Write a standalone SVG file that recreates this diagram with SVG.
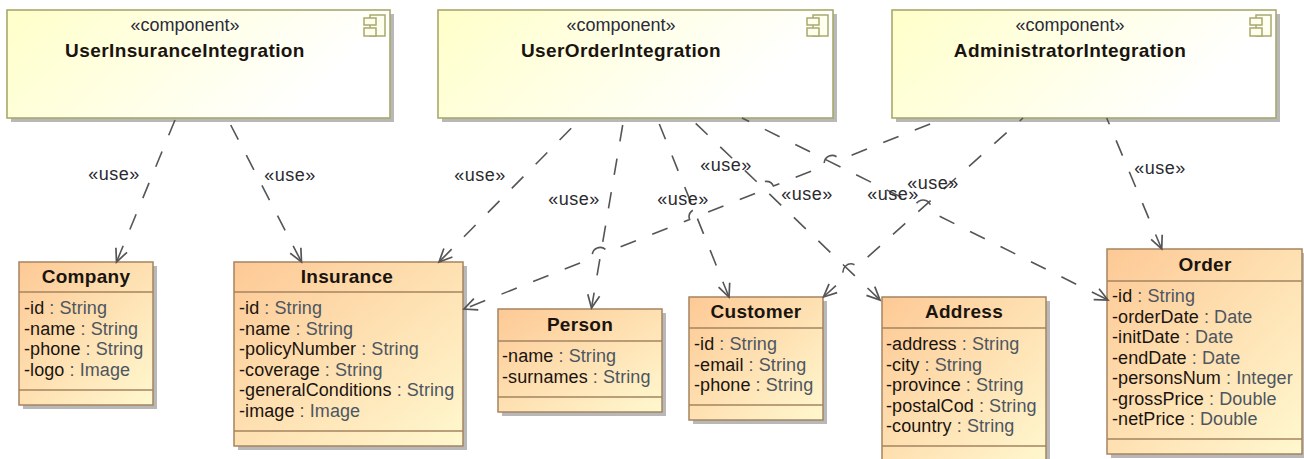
<svg xmlns="http://www.w3.org/2000/svg" width="1304" height="459" viewBox="0 0 1304 459">
<style>
text{font-family:"Liberation Sans",Arial,sans-serif;fill:#1a1410}
.sh{fill:#b8b8b8}
.comp{fill:url(#cg);stroke:#a9a96c;stroke-width:1.6}
.cls{fill:url(#kg);stroke:#a58460;stroke-width:1.5}
.sep{stroke:#a58460;stroke-width:1.5;fill:none}
.icon{fill:#fffff0;stroke:#a9a96c;stroke-width:1.5}
.st{font-size:18px;text-anchor:middle;fill:#2a2a3a}
.nm{font-size:19px;font-weight:bold;text-anchor:middle;letter-spacing:.4px}
.ti{font-size:19px;font-weight:bold;text-anchor:middle;letter-spacing:.3px}
.at{font-size:18px;letter-spacing:.08px}
.at tspan{fill:#4d5660}
.use{font-size:18px;text-anchor:middle;fill:#2a2a30;letter-spacing:.5px}
.c{fill:none;stroke:#555;stroke-width:1.6;stroke-dasharray:16.500 17.500;marker-end:url(#a)}
</style>
<defs>
<linearGradient id="cg" x1="0" y1="0" x2="1" y2="0.3"><stop offset="0.05" stop-color="#ffffcc"/><stop offset="0.95" stop-color="#ffffff"/></linearGradient>
<linearGradient id="kg" x1="0" y1="0" x2="1" y2="1"><stop offset="0" stop-color="#fdc995"/><stop offset="1" stop-color="#fff8cf"/></linearGradient>
<marker id="a" markerUnits="userSpaceOnUse" markerWidth="16" markerHeight="16" refX="14" refY="8" orient="auto" overflow="visible"><path d="M1 2L14 8L1 14" fill="none" stroke="#555" stroke-width="1.7"/></marker>
<g id="ic"><rect class="icon" x="0" y="0" width="15" height="21"/><rect class="icon" x="-6" y="3" width="12" height="7"/><rect class="icon" x="-6" y="13" width="12" height="8"/></g>
</defs>
<g id="UserInsuranceIntegration">
<rect class="sh" x="11" y="14" width="383" height="108"/><rect class="comp" x="7" y="10" width="383" height="108"/>
<use href="#ic" x="370" y="15"/>
<text class="st" x="185" y="31">«component»</text><text class="nm" x="185" y="57">UserInsuranceIntegration</text>
</g>
<g id="UserOrderIntegration">
<rect class="sh" x="442" y="14" width="395" height="108"/><rect class="comp" x="438" y="10" width="395" height="108"/>
<use href="#ic" x="813" y="15"/>
<text class="st" x="621" y="31">«component»</text><text class="nm" x="621" y="57">UserOrderIntegration</text>
</g>
<g id="AdministratorIntegration">
<rect class="sh" x="896" y="14" width="384" height="108"/><rect class="comp" x="892" y="10" width="384" height="108"/>
<use href="#ic" x="1256" y="15"/>
<text class="st" x="1070" y="31">«component»</text><text class="nm" x="1070" y="57">AdministratorIntegration</text>
</g>
<g id="Company">
<rect class="sh" x="23" y="266" width="134" height="143"/><rect class="cls" x="19" y="262" width="134" height="143"/>
<path class="sep" d="M19 292H153M19 390H153"/>
<text class="ti" x="86" y="283">Company</text>
<text class="at" x="24" y="314">-id <tspan>: String</tspan></text>
<text class="at" x="24" y="334.500">-name <tspan>: String</tspan></text>
<text class="at" x="24" y="355">-phone <tspan>: String</tspan></text>
<text class="at" x="24" y="375.500">-logo <tspan>: Image</tspan></text>
</g>
<g id="Insurance">
<rect class="sh" x="238" y="266" width="229" height="184"/><rect class="cls" x="234" y="262" width="229" height="184"/>
<path class="sep" d="M234 292H463M234 431H463"/>
<text class="ti" x="347" y="283">Insurance</text>
<text class="at" x="239" y="314">-id <tspan>: String</tspan></text>
<text class="at" x="239" y="334.500">-name <tspan>: String</tspan></text>
<text class="at" x="239" y="355">-policyNumber <tspan>: String</tspan></text>
<text class="at" x="239" y="375.500">-coverage <tspan>: String</tspan></text>
<text class="at" x="239" y="396">-generalConditions <tspan>: String</tspan></text>
<text class="at" x="239" y="416.500">-image <tspan>: Image</tspan></text>
</g>
<g id="Person">
<rect class="sh" x="502" y="313" width="164" height="103"/><rect class="cls" x="498" y="309" width="164" height="103"/>
<path class="sep" d="M498 341H662M498 397H662"/>
<text class="ti" x="580" y="331">Person</text>
<text class="at" x="502" y="362">-name <tspan>: String</tspan></text>
<text class="at" x="502" y="382.500">-surnames <tspan>: String</tspan></text>
</g>
<g id="Customer">
<rect class="sh" x="693" y="301" width="134" height="123"/><rect class="cls" x="689" y="297" width="134" height="123"/>
<path class="sep" d="M689 328H823M689 405H823"/>
<text class="ti" x="756" y="318">Customer</text>
<text class="at" x="694" y="350">-id <tspan>: String</tspan></text>
<text class="at" x="694" y="370.500">-email <tspan>: String</tspan></text>
<text class="at" x="694" y="391">-phone <tspan>: String</tspan></text>
</g>
<g id="Address">
<rect class="sh" x="886" y="301" width="164" height="170"/><rect class="cls" x="882" y="297" width="164" height="170"/>
<path class="sep" d="M882 328H1046M882 446H1046"/>
<text class="ti" x="964" y="318">Address</text>
<text class="at" x="886" y="350">-address <tspan>: String</tspan></text>
<text class="at" x="886" y="370.500">-city <tspan>: String</tspan></text>
<text class="at" x="886" y="391">-province <tspan>: String</tspan></text>
<text class="at" x="886" y="411.500">-postalCod <tspan>: String</tspan></text>
<text class="at" x="886" y="432">-country <tspan>: String</tspan></text>
</g>
<g id="Order">
<rect class="sh" x="1111" y="253" width="195" height="205"/><rect class="cls" x="1107" y="249" width="195" height="205"/>
<path class="sep" d="M1107 281H1302M1107 439H1302"/>
<text class="ti" x="1205" y="271">Order</text>
<text class="at" x="1112" y="302">-id <tspan>: String</tspan></text>
<text class="at" x="1112" y="322.500">-orderDate <tspan>: Date</tspan></text>
<text class="at" x="1112" y="343">-initDate <tspan>: Date</tspan></text>
<text class="at" x="1112" y="363.500">-endDate <tspan>: Date</tspan></text>
<text class="at" x="1112" y="384">-personsNum <tspan>: Integer</tspan></text>
<text class="at" x="1112" y="404.500">-grossPrice <tspan>: Double</tspan></text>
<text class="at" x="1112" y="425">-netPrice <tspan>: Double</tspan></text>
</g>
<g id="connectors">
<path class="c" d="M175 120L116.500 262"/>
<path class="c" d="M230.700 125L301.500 262"/>
<path class="c" d="M571.200 128.300L439 262"/>
<path class="c" d="M622.700 125L591.500 308"/>
<path class="c" d="M659.300 124L729 297"/>
<path class="c" d="M695.700 123.300L880 300"/>
<path class="c" style="stroke-dashoffset:8.500" d="M742 118L915.800 204.400A8 8 0 0 1 930.200 211.600L1108 300"/>
<path class="c" style="stroke-dashoffset:18" d="M945 118L839.400 160A8 8 0 0 0 824.600 166L773.400 186A8 8 0 0 0 758.600 192L704.400 213.500A8 8 0 0 0 689.600 219.500L607.400 252A8 8 0 0 0 592.600 258L464 309"/>
<path class="c" style="stroke-dashoffset:12" d="M1023 118L857 266.600A8 8 0 0 0 845 277.400L823.500 297"/>
<path class="c" style="stroke-dashoffset:9.700" d="M1106.700 118L1161.700 249"/>
<text class="use" x="114" y="180">«use»</text>
<text class="use" x="290" y="181">«use»</text>
<text class="use" x="480" y="181">«use»</text>
<text class="use" x="574" y="205">«use»</text>
<text class="use" x="683" y="205">«use»</text>
<text class="use" x="726" y="171">«use»</text>
<text class="use" x="807" y="200">«use»</text>
<text class="use" x="893" y="200">«use»</text>
<text class="use" x="933" y="189">«use»</text>
<text class="use" x="1160" y="174">«use»</text>
</g>
</svg>
